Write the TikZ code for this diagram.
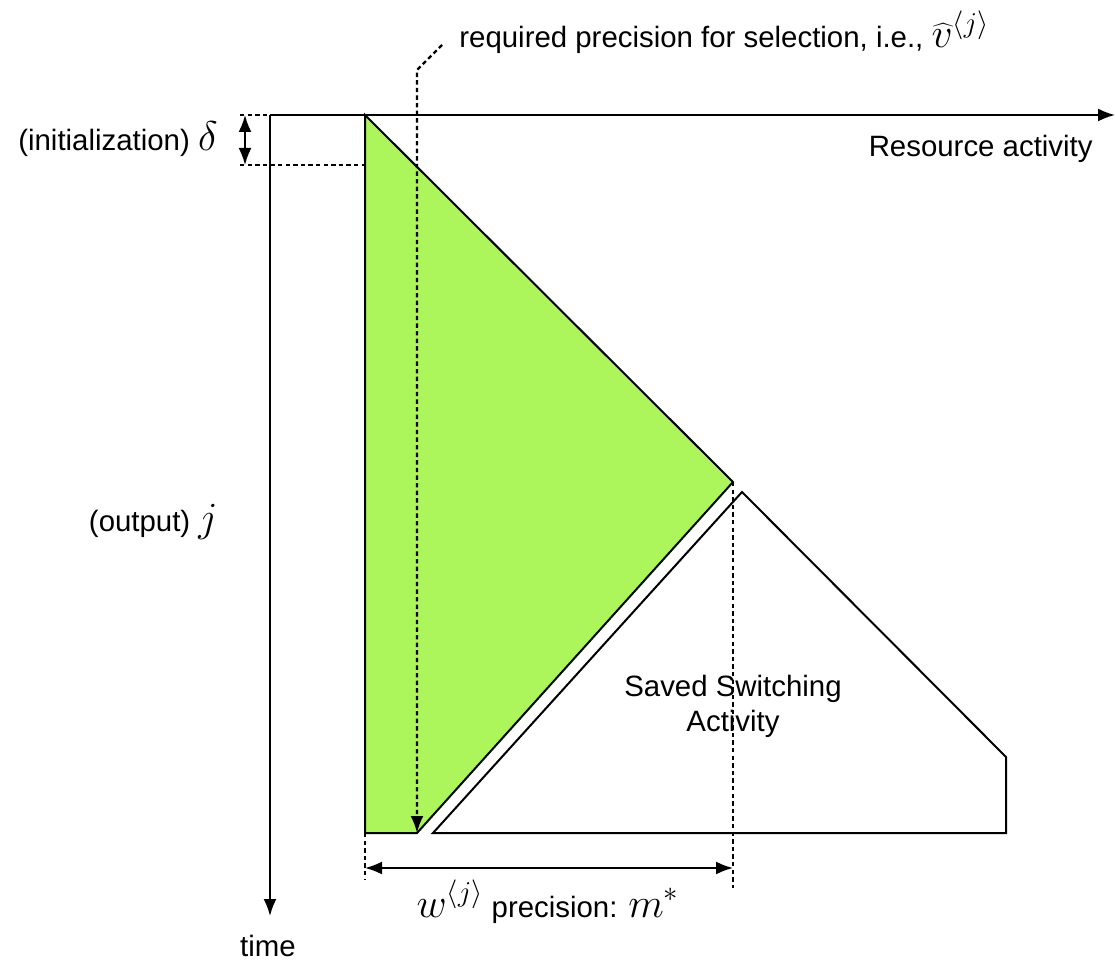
\documentclass[tikz,border=0pt]{standalone}
\usepackage{fontspec}
\setmainfont{Liberation Sans}
\usetikzlibrary{arrows.meta,positioning}
\definecolor{activegreen}{RGB}{172,246,92}
\newcommand{\largemath}[1]{{\fontsize{22}{26}\selectfont$#1$}}

\begin{document}
\begin{tikzpicture}[
        x=0.5pt, y=-0.5pt,
        line/.style={line width=1pt},
        guide/.style={line width=1.1pt, dash pattern=on 2.2pt off 1.6pt},
        tip/.style={-{Latex[length=8.5pt,width=6.5pt]}},
        twotip/.style={{Latex[length=8.5pt,width=6.5pt]}-{Latex[length=8.5pt,width=6.5pt]}},
        label/.style={font=\fontsize{14.7}{17.5}\selectfont, inner sep=0pt, align=center}
    ]
    \useasboundingbox (0,0) rectangle (1115,962);

    % Axes
    \coordinate (origin) at (270,115);
    \coordinate (xend) at (1115,115);
    \coordinate (yend) at (270,916);
    \draw[line, tip] (origin) -- (xend);
    \draw[line, tip] (origin) -- (yend);

    % Active region and saved region
    \coordinate (g1) at (365,115);
    \coordinate (g2) at (733,482);
    \coordinate (g3) at (417,833);
    \coordinate (g4) at (365,833);
    \filldraw[line, fill=activegreen] (g1) -- (g2) -- (g3) -- (g4) -- cycle;

    \coordinate (s1) at (433,833);
    \coordinate (s2) at (742,492);
    \coordinate (s3) at (1006,757);
    \coordinate (s4) at (1006,833);
    \draw[line] (s1) -- (s2) -- (s3) -- (s4) -- cycle;

    % Initialization
    \coordinate (d1) at (240,115);
    \coordinate (d2) at (240,165);
    \coordinate (d3) at (365,165);
    \coordinate (da) at (245,115);
    \coordinate (db) at (245,165);
    \draw[guide] (d1) -- (origin);
    \draw[guide] (d2) -- (d3);
    \draw[line, twotip] (da) -- (db);

    % Precision
    \coordinate (p1) at (365,833);
    \coordinate (p2) at (365,880);
    \coordinate (p3) at (733,888);
    \coordinate (pa) at (365,868);
    \coordinate (pb) at (733,868);
    \draw[guide] (p1) -- (p2);
    \draw[guide] (g2) -- (p3);
    \draw[line, twotip] (pa) -- (pb);

    % Selection pointer
    \coordinate (r1) at (442,45);
    \coordinate (r2) at (417,70);
    \draw[guide, tip] (r1) -- (r2) -- (g3);

    % Labels
    \node[label, anchor=base west] (select) at (459,48) {required precision for selection, i.e., \largemath{\widehat{v}^{\langle j\rangle}}};
    \node[label, anchor=base east] (init) at (218,151) {(initialization) \largemath{\delta}};
    \node[label, anchor=base east] (output) at (218,532) {(output) \largemath{j}};
    \node[label] (time) at (268,946) {time};
    \node[label, anchor=base east] (resource) at (1093,157) {Resource activity};
    \node[label] (saved) at (733,706) {Saved Switching\\Activity};
    \node[label, anchor=base] (width) at (548,917) {\largemath{w^{\langle j\rangle}} precision: \largemath{m^*}};

\end{tikzpicture}
\end{document}
